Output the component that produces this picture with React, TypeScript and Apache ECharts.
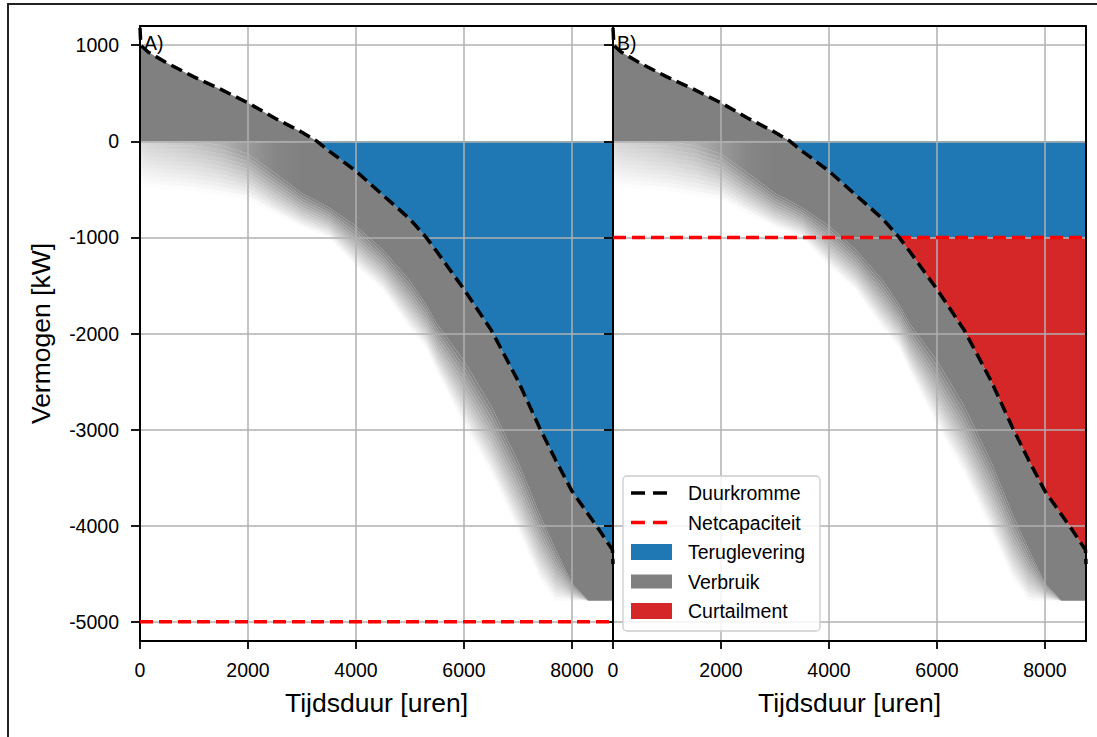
import React, { useEffect, useRef } from "react";
import * as echarts from "echarts";

// ---- data ----
const hours = [0, 15, 150, 500, 1000, 1500, 2000, 2500, 3000, 3280, 3500, 4000, 4500, 5000, 5300, 5500, 6000, 6500, 7000, 7400, 7700, 8000, 8300, 8500, 8700, 8750, 8760];
const duurkromme = [1180, 1000, 930, 815, 670, 540, 400, 240, 95, 0, -100, -310, -560, -810, -1000, -1150, -1540, -1960, -2490, -2980, -3320, -3640, -3880, -4040, -4210, -4250, -4400];
// lower edge of the dense grey consumption band
const verbruikSolid = [0, 0, 0, 0, 0, -40, -130, -330, -540, -620, -690, -880, -1130, -1450, -1700, -1900, -2280, -2750, -3330, -3880, -4250, -4600, -4780, -4780, -4780, -4780, -4780];
// where the grey consumption band fades out
const verbruikFade = [-450, -450, -480, -500, -520, -560, -600, -750, -890, -950, -1000, -1300, -1550, -1950, -2150, -2400, -2950, -3450, -4050, -4550, -4780, -4780, -4780, -4780, -4780, -4780, -4780];
// opacity of the grey band just below its top edge
const verbruikAlpha = [0.3, 0.3, 0.35, 0.4, 0.5, 0.6, 0.8, 0.95, 1, 1, 1, 1, 1, 1, 1, 1, 1, 1, 1, 1, 1, 1, 1, 1, 1, 1, 1];
const netcapaciteit = [-5000, -1000]; // panel A, panel B
const xTicks = [0, 2000, 4000, 6000, 8000];
const yTicks = [-5000, -4000, -3000, -2000, -1000, 0, 1000];
const panelLabels = ["A)", "B)"];
const legendNames = ["Duurkromme", "Netcapaciteit", "Teruglevering", "Verbruik", "Curtailment"];

const FONT = "'Liberation Sans', Arial, Helvetica, sans-serif";
const BLUE = "#1f77b4";
const RED_FILL = "#d62728";
const GREY = "#808080";
const GRID = "#b0b0b0";
const N_BANDS = 12;

const H0 = hours[0];
const H1 = hours[hours.length - 1];

function polygon(api: any, upper: number[], lower: number[], fill: any) {
  const pts: number[][] = [];
  for (let i = 0; i < hours.length; i++) pts.push(api.coord([hours[i], upper[i]]));
  for (let i = hours.length - 1; i >= 0; i--) pts.push(api.coord([hours[i], lower[i]]));
  return { type: "polygon", silent: true, shape: { points: pts }, style: { fill } };
}

function greyGradient(factor: number) {
  return new echarts.graphic.LinearGradient(
    0, 0, 1, 0,
    hours.map((h, i) => ({
      offset: (h - H0) / (H1 - H0),
      color: `rgba(128,128,128,${Math.max(0, verbruikAlpha[i] * factor).toFixed(3)})`,
    }))
  );
}

const plain = (v: number) => String(v);

function buildOption() {
  const grids = [
    { left: 140, top: 26, width: 473, height: 615 },
    { left: 613, top: 26, width: 473, height: 615 },
  ];
  const xAxis: any[] = [];
  const yAxis: any[] = [];
  const series: any[] = [];
  for (let p = 0; p < 2; p++) {
    xAxis.push({
      type: "value", gridIndex: p, position: "bottom", min: H0, max: H1, interval: 2000, z: 3,
      axisLine: { show: true, onZero: false, lineStyle: { color: "#000", width: 2 } },
      axisTick: { show: true, customValues: xTicks, length: 8, lineStyle: { color: "#000", width: 1.8 } },
      axisLabel: { show: true, customValues: xTicks, formatter: plain, margin: 19, fontSize: 19.5, color: "#000", fontFamily: FONT },
      splitLine: { show: true, lineStyle: { color: GRID, width: 1.5 } },
      name: "Tijdsduur [uren]", nameLocation: "middle", nameGap: 48,
      nameTextStyle: { fontSize: 26.5, color: "#000", fontFamily: FONT },
    });
    xAxis.push({
      type: "value", gridIndex: p, position: "top", min: H0, max: H1, z: 4,
      axisLine: { show: true, onZero: false, lineStyle: { color: "#000", width: 2 } },
      axisTick: { show: false }, axisLabel: { show: false }, splitLine: { show: false },
    });
    yAxis.push({
      type: "value", gridIndex: p, position: "left", min: -5200, max: 1200, splitNumber: 6, z: 3,
      axisLine: { show: true, onZero: false, lineStyle: { color: "#000", width: 2 } },
      axisTick: { show: true, customValues: yTicks, length: 9, lineStyle: { color: "#000", width: 1.8 } },
      axisLabel: { show: p === 0, customValues: yTicks, formatter: plain, margin: 21, fontSize: 19.5, color: "#000", fontFamily: FONT },
      splitLine: { show: true, lineStyle: { color: GRID, width: 1.5 } },
      name: p === 0 ? "Vermogen [kW]" : "", nameLocation: "middle", nameGap: 86,
      nameTextStyle: { fontSize: 26.5, color: "#000", fontFamily: FONT },
    });
    yAxis.push({
      type: "value", gridIndex: p, position: "right", min: -5200, max: 1200, z: 4,
      axisLine: { show: true, onZero: false, lineStyle: { color: "#000", width: 2 } },
      axisTick: { show: false }, axisLabel: { show: false }, splitLine: { show: false },
    });

    const xi = 2 * p;
    const yi = 2 * p;
    const cap = netcapaciteit[p];

    // Verbruik (grey)
    series.push({
      type: "custom", name: "Verbruik", xAxisIndex: xi, yAxisIndex: yi, z: 1, silent: true,
      data: [[H0, 0]],
      renderItem: (_params: any, api: any) => {
        const children: any[] = [];
        const above = duurkromme.map((v) => Math.max(v, 0));
        const zero = duurkromme.map(() => 0);
        children.push(polygon(api, above, zero, GREY));
        const top = duurkromme.map((v) => Math.min(v, 0));
        children.push(polygon(api, top, verbruikSolid, greyGradient(1)));
        for (let k = 0; k < N_BANDS; k++) {
          const up = verbruikSolid.map((s, i) => s + (k / N_BANDS) * (verbruikFade[i] - s));
          const lo = verbruikSolid.map((s, i) => s + ((k + 1) / N_BANDS) * (verbruikFade[i] - s));
          children.push(polygon(api, up, lo, greyGradient(1 - (k + 0.5) / N_BANDS)));
        }
        return { type: "group", children };
      },
    });

    // Teruglevering (blue)
    series.push({
      type: "custom", name: "Teruglevering", xAxisIndex: xi, yAxisIndex: yi, z: 1, silent: true,
      data: [[H0, 0]],
      renderItem: (_params: any, api: any) => {
        const zero = duurkromme.map(() => 0);
        const low = duurkromme.map((v) => Math.max(Math.min(v, 0), cap));
        return polygon(api, zero, low, BLUE);
      },
    });

    // Curtailment (red), only where the duration curve passes the grid capacity
    if (p === 1) {
      series.push({
        type: "custom", name: "Curtailment", xAxisIndex: xi, yAxisIndex: yi, z: 1, silent: true,
        data: [[H0, 0]],
        renderItem: (_params: any, api: any) => {
          const capArr = duurkromme.map(() => cap);
          const low = duurkromme.map((v) => Math.min(v, cap));
          return polygon(api, capArr, low, RED_FILL);
        },
      });
    }

    series.push({
      type: "line", name: "Netcapaciteit", xAxisIndex: xi, yAxisIndex: yi, z: 6,
      data: [[H0, cap], [H1, cap]], symbol: "none", silent: true,
      lineStyle: { color: "#ff0000", width: 3.5, type: [13, 6] },
    });
    series.push({
      type: "line", name: "Duurkromme", xAxisIndex: xi, yAxisIndex: yi, z: 7,
      data: hours.map((h, i) => [h, duurkromme[i]]), symbol: "none", silent: true,
      lineStyle: { color: "#000", width: 3.5, type: [12, 6] },
    });
  }

  // legend drawn as graphic
  const LZ = 100;
  const lx = 623, ly = 476, lw = 197, lh = 155;
  const rowY = [493, 522.5, 552, 581.5, 611];
  const legendChildren: any[] = [
    { type: "rect", z: LZ, shape: { x: lx, y: ly, width: lw, height: lh, r: 4 }, style: { fill: "rgba(255,255,255,0.85)", stroke: "#cccccc", lineWidth: 1.3 } },
  ];
  legendNames.forEach((name, i) => {
    const cy = rowY[i];
    if (i === 0 || i === 1) {
      legendChildren.push({
        type: "line", z: LZ + 1, shape: { x1: 631, y1: cy, x2: 672, y2: cy },
        style: { stroke: i === 0 ? "#000" : "#ff0000", lineWidth: 3.5, lineDash: [14, 8] },
      });
    } else {
      const col = i === 2 ? BLUE : i === 3 ? GREY : RED_FILL;
      const hgt = i === 3 ? 14 : 16;
      legendChildren.push({ type: "rect", z: LZ + 1, shape: { x: 631, y: cy - hgt / 2, width: 41, height: hgt }, style: { fill: col } });
    }
    legendChildren.push({
      type: "text", z: LZ + 1, x: 688, y: cy,
      style: { text: name, fontSize: 19.5, fontFamily: FONT, fill: "#000", verticalAlign: "middle", textAlign: "left" },
    });
  });

  const graphic: any[] = [
    { type: "rect", z: 0, silent: true, shape: { x: 8, y: 4, width: 1300, height: 900 }, style: { fill: "none", stroke: "#222", lineWidth: 2 } },
    { type: "group", silent: true, children: legendChildren },
    { type: "text", z: LZ, x: 144, y: 43, style: { text: panelLabels[0], fontSize: 19.5, fontFamily: FONT, fill: "#000", verticalAlign: "middle" } },
    { type: "text", z: LZ, x: 617, y: 43, style: { text: panelLabels[1], fontSize: 19.5, fontFamily: FONT, fill: "#000", verticalAlign: "middle" } },
  ];

  return {
    animation: false,
    backgroundColor: "#fff",
    textStyle: { fontFamily: FONT },
    grid: grids,
    xAxis,
    yAxis,
    series,
    graphic,
  };
}

export default function App() {
  const ref = useRef<HTMLDivElement>(null);
  useEffect(() => {
    document.body.style.margin = "0";
    if (!ref.current) return;
    const chart = echarts.init(ref.current, undefined, { renderer: "svg" });
    chart.setOption(buildOption() as any);
    return () => chart.dispose();
  }, []);
  return <div ref={ref} style={{ width: 1097, height: 737 }} />;
}
